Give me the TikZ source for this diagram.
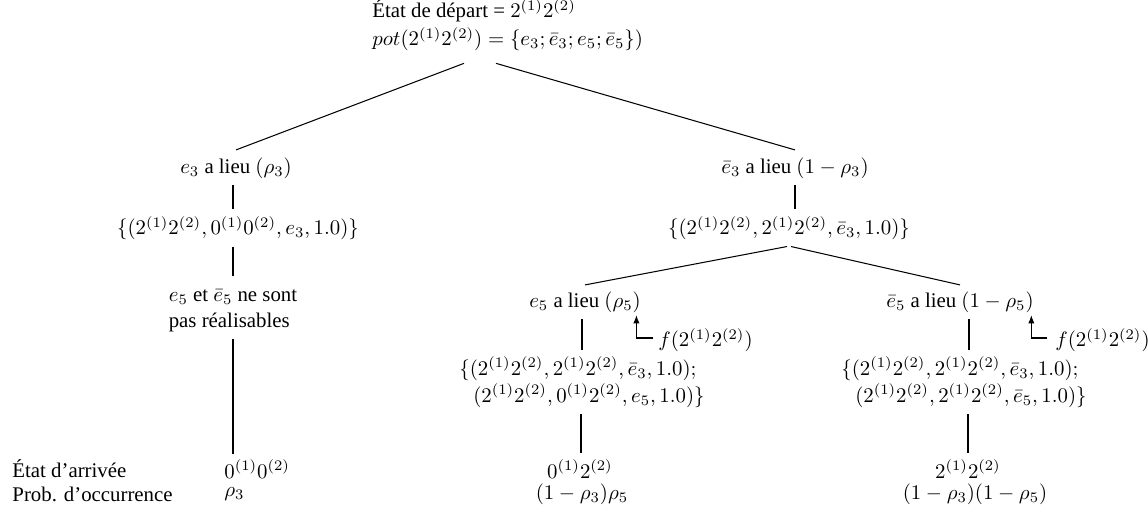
\documentclass[tikz,border=0pt]{standalone}
\usepackage[no-math]{fontspec}
\setmainfont{Liberation Serif}
\usetikzlibrary{arrows.meta,calc}
\begin{document}
\begin{tikzpicture}[x=0.48pt,y=-0.48pt,
  lbl/.style={inner sep=3pt},
  conn/.style={draw,line width=0.5pt},
  fref/.style={conn,-{Latex[length=4pt,width=3pt]}}]
\useasboundingbox (0,0) rectangle (1148,518);
% root
\node[lbl,align=left,anchor=west,inner sep=0pt] (root) at (372,25)
  {État de départ = $2^{(1)}2^{(2)}$\\[1.5pt]
   $pot(2^{(1)}2^{(2)}) = \{e_3;\bar{e}_3;e_5;\bar{e}_5\})$};
% left branch
\node[lbl] (e3) at (236,168) {$e_3$ a lieu $(\rho_3)$};
\node[lbl] (s1) at (238,228) {$\{(2^{(1)}2^{(2)},0^{(1)}0^{(2)},e_3,1.0)\}$};
\node[lbl,align=left] (nr) at (233,311) {$e_5$ et $\bar{e}_5$ ne sont\\[0.5pt]pas réalisables};
\node[lbl,anchor=west,inner sep=0pt] (a1) at (224,469) {$0^{(1)}0^{(2)}$};
\node[lbl,anchor=west,inner sep=0pt] (p1) at (224,494) {$\rho_3$};
% right branch
\node[lbl] (ne3) at (795,168) {$\bar{e}_3$ a lieu $(1-\rho_3)$};
\node[lbl] (s2) at (789,228) {$\{(2^{(1)}2^{(2)},2^{(1)}2^{(2)},\bar{e}_3,1.0)\}$};
\node[lbl] (e5) at (585,302) {$e_5$ a lieu $(\rho_5)$};
\node[lbl] (ne5) at (960,302) {$\bar{e}_5$ a lieu $(1-\rho_5)$};
\node[lbl,align=left] (s3) at (582,382)
  {$\{(2^{(1)}2^{(2)},2^{(1)}2^{(2)},\bar{e}_3,1.0);$\\[1pt]
   $\phantom{\{}\,(2^{(1)}2^{(2)},0^{(1)}2^{(2)},e_5,1.0)\}$};
\node[lbl,align=left] (s4) at (964,382)
  {$\{(2^{(1)}2^{(2)},2^{(1)}2^{(2)},\bar{e}_3,1.0);$\\[1pt]
   $\phantom{\{}\,(2^{(1)}2^{(2)},2^{(1)}2^{(2)},\bar{e}_5,1.0)\}$};
\node[lbl,inner sep=0pt] (a2) at (580,469) {$0^{(1)}2^{(2)}$};
\node[lbl,inner sep=0pt] (p2) at (582,494) {$(1-\rho_3)\rho_5$};
\node[lbl,inner sep=0pt] (a3) at (968,469) {$2^{(1)}2^{(2)}$};
\node[lbl,inner sep=0pt] (p3) at (975,494) {$(1-\rho_3)(1-\rho_5)$};
% f labels
\node[lbl,anchor=west,inner sep=0pt] (f5) at (658,340) {$f(2^{(1)}2^{(2)})$};
\node[lbl,anchor=west,inner sep=0pt] (f6) at (1055,340) {$f(2^{(1)}2^{(2)})$};
% row labels
\node[lbl,anchor=west,inner sep=0pt] (ra) at (12,469) {État d’arrivée};
\node[lbl,anchor=west,inner sep=0pt] (rp) at (12,494) {Prob. d’occurrence};
% connectors
\draw[conn] ($(root.south west)+(92,12)$) -- ($(e3.north)+(0,-1)$);
\draw[conn] ($(root.south west)+(124,12)$) -- ($(ne3.north)+(0,-1)$);
\draw[conn] (e3.south -| s1.north) ++(-5,0) coordinate (t1) -- (t1 |- s1.north);
\draw[conn] (s1.south -| nr.north) -- ($(nr.north)+(0,-7)$);
\draw[conn] (nr.south) -- ($(nr.south |- a1.north)+(0,-5)$);
\draw[conn] (ne3.south) -- (ne3.south |- s2.north);
\draw[conn] ($(s2.south)+(-2,0)$) -- (e5.north);
\draw[conn] ($(s2.south)+(2,0)$) -- (ne5.north);
\draw[conn] ($(e5.south)+(-3,0)$) -- ($(e5.south |- s3.north)+(-3,0)$);
\draw[conn] ($(ne5.south)+(9,0)$) -- ($(ne5.south |- s4.north)+(9,0)$);
\draw[conn] ($(s3.south)+(-1,0)$) -- ($(s3.south |- a2.north)+(-1,-6)$);
\draw[conn] ($(s4.south)+(4,0)$) -- ($(s4.south |- a3.north)+(4,-6)$);
\draw[fref] ($(f5.west)+(-5,-2)$) -| ($(e5.south east)+(-11,-4)$);
\draw[fref] ($(f6.west)+(-8,-2)$) -| ($(ne5.south east)+(-9,-4)$);
\end{tikzpicture}
\end{document}
